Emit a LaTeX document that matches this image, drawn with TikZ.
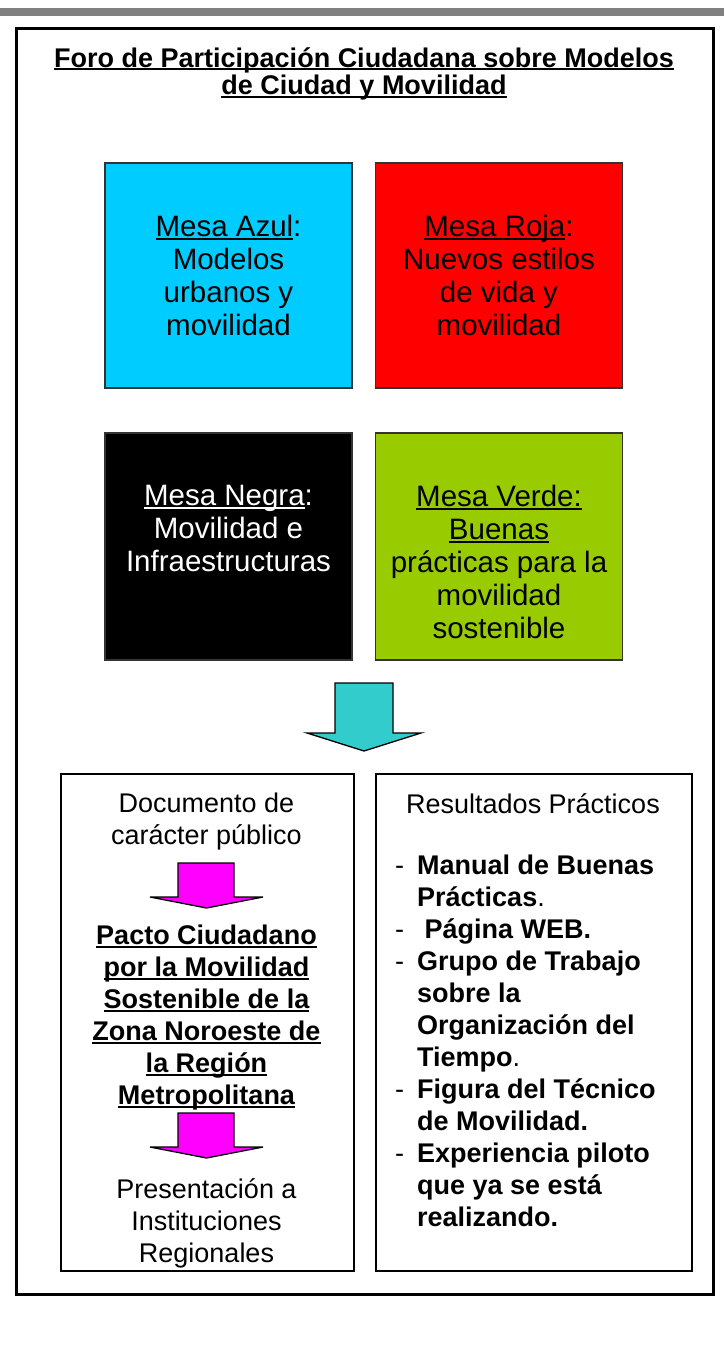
\documentclass[tikz,border=0pt]{standalone}
\usepackage{fontspec}
\setmainfont{Liberation Sans}
\usetikzlibrary{positioning}

\definecolor{mesaazul}{HTML}{00CCFF}
\definecolor{mesaroja}{HTML}{FF0000}
\definecolor{mesaverde}{HTML}{99CC00}
\definecolor{flechacian}{HTML}{33CCCC}
\definecolor{flechamagenta}{HTML}{FF00FF}
\definecolor{barragris}{HTML}{808080}

% underline at a fixed depth below the baseline
\newcommand{\ulin}[1]{\setbox0=\hbox{#1}\rlap{\rule[-0.12em]{\wd0}{0.075em}}\box0}

\tikzset{
  mesa/.style={draw=black!80, line width=1.3pt, minimum width=247pt, minimum height=225pt},
  mesatext/.style={align=center, font=\fontsize{29.5}{33}\selectfont},
  caja/.style={draw, line width=1.6pt, minimum height=497pt, anchor=north west},
  bloque/.style={draw, line width=1.3pt, line join=miter}
}

\begin{document}
\begin{tikzpicture}[x=1pt, y=-1pt, every node/.style={inner sep=0pt, font=\fontsize{27}{32}\selectfont}]
  \useasboundingbox (0,0) rectangle (724,1349);

  % Top bar and frame
  \fill[barragris] (0,8) rectangle (724,16);
  \node[draw, line width=2.5pt, minimum width=697pt, minimum height=1266pt, anchor=north west] (marco) at (15,27) {};

  % Title
  \node[anchor=north, align=center, font=\fontsize{27}{27.5}\selectfont\bfseries] (titulo) at (364,47)
    {\ulin{Foro de Participación Ciudadana sobre Modelos}\\\ulin{de Ciudad y Movilidad}};

  % Mesas
  \node[mesa, fill=mesaazul] (azul) at (228.5,275.5) {};
  \node[mesa, fill=mesaroja] (roja) at (499,275.5) {};
  \node[mesa, fill=black, minimum height=227pt] (negra) at (228.5,546.5) {};
  \node[mesa, fill=mesaverde, minimum height=227pt] (verde) at (499,546.5) {};

  \node[mesatext, below=53pt of azul.north] (azultxt) {\ulin{Mesa Azul}:\\Modelos\\urbanos y\\movilidad};
  \node[mesatext, below=53pt of roja.north] (rojatxt) {\ulin{Mesa Roja}:\\Nuevos estilos\\de vida y\\movilidad};
  \node[mesatext, text=white, below=53pt of negra.north] (negratxt) {\ulin{Mesa Negra}:\\Movilidad e\\Infraestructuras};
  \node[mesatext, below=53pt of verde.north] (verdetxt) {\ulin{Mesa Verde:}\\\ulin{Buenas}\\prácticas para la\\movilidad\\sostenible};

  % Big arrow
  \draw[bloque, fill=flechacian] (335,683) -- (393,683) -- (393,733) -- (421,733)
    -- (364,751) -- (307,733) -- (335,733) -- cycle;

  % Bottom boxes
  \node[caja, minimum width=293pt] (documento) at (60,773) {};
  \node[caja, minimum width=316pt] (resultados) at (375,773) {};

  % Left column
  \node[anchor=north, align=center] (doctxt) at (206.5,793) {Documento de\\carácter público};
  \draw[bloque, fill=flechamagenta] (178,863) -- (234,863) -- (234,897) -- (263,897)
    -- (206.5,908) -- (150,897) -- (178,897) -- cycle;
  \node[anchor=north, align=center, font=\fontsize{27}{32}\selectfont\bfseries] (pacto) at (206.5,925)
    {\ulin{Pacto Ciudadano}\\\ulin{por la Movilidad}\\\ulin{Sostenible de la}\\\ulin{Zona Noroeste de}\\\ulin{la Región}\\\ulin{Metropolitana}};
  \draw[bloque, fill=flechamagenta] (178,1113) -- (234,1113) -- (234,1147) -- (263,1147)
    -- (206.5,1158) -- (150,1147) -- (178,1147) -- cycle;
  \node[anchor=north, align=center] (presentacion) at (206.5,1178) {Presentación a\\Instituciones\\Regionales};

  % Right column
  \node[anchor=north] (restxt) at (533,793) {Resultados Prácticos};
  \node[anchor=north west] (lista) at (395,852) {%
    \begin{tabular}{@{}l@{\hspace{13pt}}l@{}}
      - & \textbf{Manual de Buenas}\\
        & \textbf{Prácticas}.\\
      - & \textbf{\ Página WEB.}\\
      - & \textbf{Grupo de Trabajo}\\
        & \textbf{sobre la}\\
        & \textbf{Organización del}\\
        & \textbf{Tiempo}.\\
      - & \textbf{Figura del Técnico}\\
        & \textbf{de Movilidad.}\\
      - & \textbf{Experiencia piloto}\\
        & \textbf{que ya se está}\\
        & \textbf{realizando.}
    \end{tabular}};
\end{tikzpicture}
\end{document}
